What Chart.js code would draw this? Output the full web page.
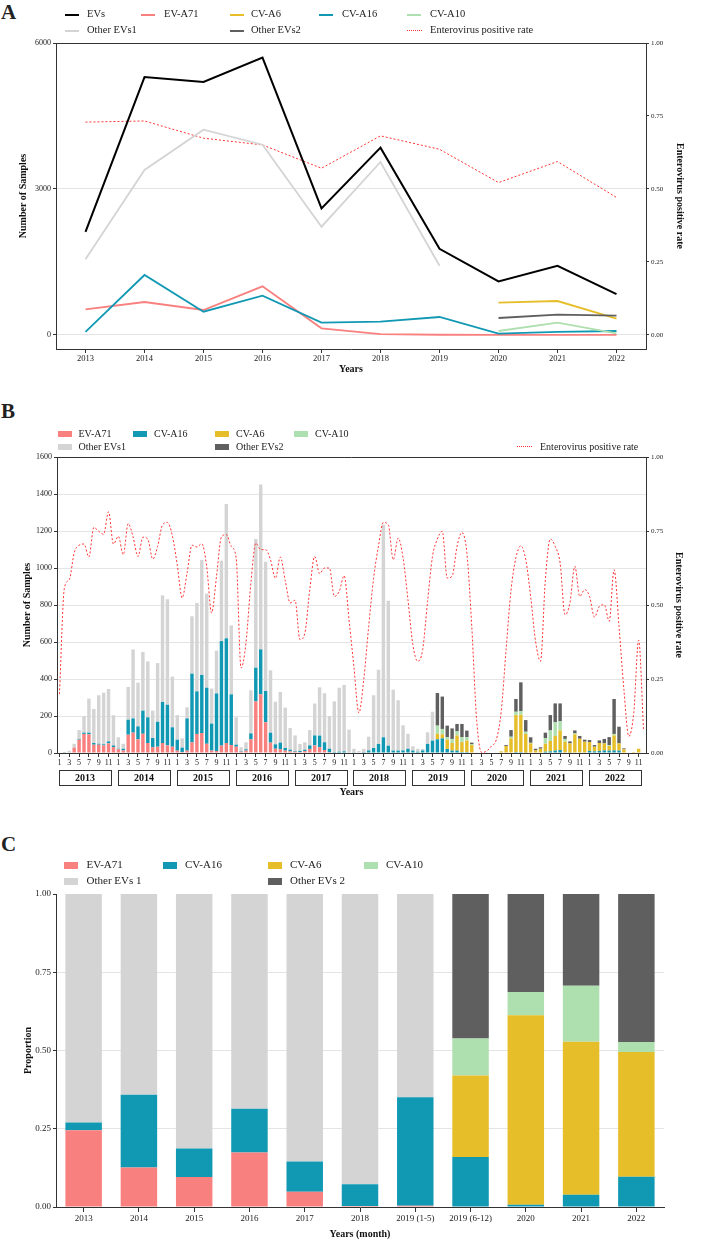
<!DOCTYPE html>
<html>
<head>
<meta charset="utf-8">
<script src="https://cdn.jsdelivr.net/npm/chart.js@4.4.0/dist/chart.umd.min.js"></script>
<style>
  body { margin: 0; background: #fff; font-family: "Liberation Serif", "Times New Roman", serif; color: #222; }
  #page { position: relative; width: 719px; height: 1240px; overflow: hidden; }
  .tag { position: absolute; left: 1px; font-weight: bold; font-size: 21px; line-height: 1; }
  .box { position: absolute; left: 0; width: 719px; }
  .lg-text { position: absolute; white-space: nowrap; line-height: 1.2; }
  .lg-sw { position: absolute; }
</style>
</head>
<body>
<div id="page">
  <div class="tag" style="top:2px">A</div>
  <div class="tag" style="top:401px">B</div>
  <div class="tag" style="top:834px">C</div>
  <div class="box" style="top:35px;height:345px"><canvas id="chartA"></canvas></div>
  <div class="box" style="top:449px;height:353px"><canvas id="chartB"></canvas></div>
  <div class="box" style="top:886px;height:354px"><canvas id="chartC"></canvas></div>
</div>
<script>
// ---- Panel A: yearly totals ----
const yearsA = ['2013', '2014', '2015', '2016', '2017', '2018', '2019', '2020', '2021', '2022'];
const evsA = [2120, 5300, 5200, 5700, 2600, 3850, 1770, 1100, 1420, 840];
const ev71A = [527, 678, 514, 1000, 137, 18, 5, 2, 3, 2];
const cva6A = [null, null, null, null, null, null, null, 664, 698, 335];
const cva16A = [62, 1233, 479, 808, 253, 274, 370, 27, 62, 82];
const cva10A = [null, null, null, null, null, null, null, 82, 253, 34];
const other1A = [1555, 3390, 4218, 3910, 2225, 3555, 1424, null, null, null];
const other2A = [null, null, null, null, null, null, null, 349, 418, 397];
const rateA = [0.729, 0.733, 0.674, 0.651, 0.571, 0.682, 0.636, 0.522, 0.594, 0.471];
const yTicksA = [0, 3000, 6000];
const rTicks = [0, 0.25, 0.5, 0.75, 1];

// ---- Panel B: monthly counts ----
const yearsB = [2013, 2014, 2015, 2016, 2017, 2018, 2019, 2020, 2021, 2022];
const monthsB = ['1', '2', '3', '4', '5', '6', '7', '8', '9', '10', '11', '12'];
const ev71B = [
  0, 0, 0, 29, 72, 103, 101, 45, 45, 41, 52, 32,
  20, 14, 99, 110, 74, 104, 54, 31, 34, 54, 41, 34,
  13, 5, 13, 58, 103, 108, 50, 13, 11, 40, 54, 43,
  34, 7, 13, 74, 279, 317, 166, 56, 23, 20, 13, 9,
  7, 5, 11, 22, 41, 31, 16, 4, 0, 0, 0, 0,
  0, 0, 0, 0, 0, 0, 0, 0, 0, 0, 0, 0,
  0, 0, 0, 0, 0, 0, 0, 0, 0, 0, 0, 0,
  0, 0, 0, 0, 0, 0, 0, 0, 0, 0, 0, 0,
  0, 0, 0, 0, 0, 0, 0, 0, 0, 0, 0, 0,
  0, 0, 0, 0, 0, 0, 0, 0, 0, 0, 0, 0
];
const cva16B = [
  0, 2, 0, 0, 4, 7, 9, 9, 5, 6, 11, 9,
  3, 9, 81, 77, 70, 125, 139, 50, 135, 222, 220, 105,
  59, 24, 174, 371, 230, 314, 303, 146, 311, 565, 566, 274,
  11, 3, 7, 32, 182, 243, 169, 54, 24, 36, 14, 9,
  4, 6, 7, 19, 54, 63, 42, 19, 5, 7, 9, 3,
  2, 0, 5, 14, 27, 49, 85, 40, 13, 13, 14, 23,
  13, 7, 14, 49, 67, 74, 79, 22, 13, 13, 5, 5,
  0, 0, 0, 0, 0, 0, 0, 0, 0, 5, 5, 2,
  0, 0, 0, 7, 9, 13, 16, 3, 2, 3, 3, 3,
  11, 9, 11, 14, 13, 14, 13, 0, 0, 0, 0, 0
];
const cva6B = [
  0, 0, 0, 0, 0, 0, 0, 0, 0, 0, 0, 0,
  0, 0, 0, 0, 0, 0, 0, 0, 0, 0, 0, 0,
  0, 0, 0, 0, 0, 0, 0, 0, 0, 0, 0, 0,
  0, 0, 0, 0, 0, 0, 0, 0, 0, 0, 0, 0,
  0, 0, 0, 0, 0, 0, 0, 0, 0, 0, 0, 0,
  0, 0, 0, 0, 0, 0, 0, 0, 0, 0, 0, 0,
  0, 0, 0, 0, 0, 30, 22, 50, 41, 82, 54, 62,
  43, 3, 0, 0, 0, 0, 9, 38, 79, 200, 202, 101,
  52, 14, 23, 43, 56, 79, 106, 58, 50, 98, 74, 58,
  48, 25, 43, 38, 25, 81, 39, 20, 0, 5, 23, 0
];
const cva10B = [
  0, 0, 0, 0, 0, 0, 0, 0, 0, 0, 0, 0,
  0, 0, 0, 0, 0, 0, 0, 0, 0, 0, 0, 0,
  0, 0, 0, 0, 0, 0, 0, 0, 0, 0, 0, 0,
  0, 0, 0, 0, 0, 0, 0, 0, 0, 0, 0, 0,
  0, 0, 0, 0, 0, 0, 0, 0, 0, 0, 0, 0,
  0, 0, 0, 0, 0, 0, 0, 0, 0, 0, 0, 0,
  0, 0, 0, 0, 0, 44, 29, 14, 22, 22, 27, 19,
  4, 0, 0, 0, 0, 0, 0, 0, 9, 18, 20, 12,
  3, 0, 0, 31, 57, 74, 49, 15, 0, 5, 0, 0,
  0, 0, 0, 0, 5, 8, 0, 0, 0, 0, 0, 0
];
const other1B = [
  2, 4, 12, 21, 48, 90, 184, 184, 262, 279, 283, 163,
  62, 27, 177, 373, 236, 317, 302, 148, 317, 576, 570, 274,
  133, 50, 60, 310, 478, 621, 508, 189, 231, 435, 726, 373,
  148, 21, 38, 233, 696, 892, 699, 337, 230, 274, 218, 117,
  84, 38, 40, 83, 172, 261, 265, 177, 274, 346, 359, 123,
  21, 11, 17, 74, 285, 401, 1149, 783, 329, 272, 136, 81,
  23, 16, 8, 63, 156, 0, 0, 0, 0, 0, 0, 0,
  0, 0, 0, 0, 0, 0, 0, 0, 0, 0, 0, 0,
  0, 0, 0, 0, 0, 0, 0, 0, 0, 0, 0, 0,
  0, 0, 0, 0, 0, 0, 0, 0, 0, 0, 0, 0
];
const other2B = [
  0, 0, 0, 0, 0, 0, 0, 0, 0, 0, 0, 0,
  0, 0, 0, 0, 0, 0, 0, 0, 0, 0, 0, 0,
  0, 0, 0, 0, 0, 0, 0, 0, 0, 0, 0, 0,
  0, 0, 0, 0, 0, 0, 0, 0, 0, 0, 0, 0,
  0, 0, 0, 0, 0, 0, 0, 0, 0, 0, 0, 0,
  0, 0, 0, 0, 0, 0, 0, 0, 0, 0, 0, 0,
  0, 0, 0, 0, 0, 176, 175, 62, 57, 40, 71, 35,
  9, 0, 0, 0, 0, 0, 0, 5, 36, 69, 155, 63,
  30, 9, 8, 29, 83, 102, 97, 16, 11, 16, 15, 11,
  11, 9, 14, 24, 43, 189, 90, 5, 0, 0, 0, 0
];
const rateB = [
  0.199, 0.557, 0.586, 0.676, 0.702, 0.706, 0.662, 0.762, 0.749, 0.739, 0.815, 0.706,
  0.732, 0.670, 0.775, 0.730, 0.664, 0.729, 0.723, 0.655, 0.698, 0.771, 0.779, 0.734,
  0.636, 0.524, 0.608, 0.702, 0.696, 0.707, 0.630, 0.473, 0.597, 0.730, 0.738, 0.698,
  0.659, 0.287, 0.372, 0.574, 0.709, 0.687, 0.687, 0.653, 0.590, 0.662, 0.582, 0.507,
  0.516, 0.383, 0.405, 0.552, 0.664, 0.606, 0.625, 0.625, 0.529, 0.546, 0.599, 0.450,
  0.290, 0.135, 0.248, 0.428, 0.590, 0.700, 0.779, 0.771, 0.653, 0.726, 0.660, 0.518,
  0.366, 0.310, 0.349, 0.512, 0.664, 0.723, 0.749, 0.591, 0.597, 0.698, 0.745, 0.676,
  0.428, 0.110, 0.002, 0.006, 0.023, 0.045, 0.140, 0.350, 0.550, 0.660, 0.700, 0.653,
  0.529, 0.377, 0.310, 0.586, 0.723, 0.698, 0.642, 0.467, 0.507, 0.631, 0.529, 0.552,
  0.529, 0.459, 0.495, 0.501, 0.445, 0.619, 0.428, 0.214, 0.056, 0.135, 0.381, 0.079
];

// ---- Panel C: yearly proportions ----
const periodsC = ['2013', '2014', '2015', '2016', '2017', '2018', '2019 (1-5)', '2019 (6-12)', '2020', '2021', '2022'];
const ev71C = [0.245, 0.126, 0.096, 0.174, 0.049, 0.003, 0.004, 0, 0, 0, 0];
const cva16C = [0.025, 0.233, 0.091, 0.140, 0.096, 0.070, 0.347, 0.160, 0.007, 0.039, 0.097];
const cva6C = [0, 0, 0, 0, 0, 0, 0, 0.260, 0.606, 0.489, 0.398];
const cva10C = [0, 0, 0, 0, 0, 0, 0, 0.118, 0.074, 0.179, 0.032];
const other1C = [0.730, 0.641, 0.813, 0.686, 0.855, 0.927, 0.649, 0, 0, 0, 0];
const other2C = [0, 0, 0, 0, 0, 0, 0, 0.462, 0.313, 0.293, 0.473];

const COL = {
  evs: '#000000', ev71: '#F8807F', cva6: '#E6BE2A', cva16: '#1199B4',
  cva10: '#AEDFAF', other1: '#D4D4D4', other2: '#5F5F5F', rate: '#FF3333'
};
const AXIS = '#333333';
const GRID = '#e4e4e4';
const SERIF = '"Liberation Serif", "Times New Roman", serif';

Chart.defaults.font.family = SERIF;
Chart.defaults.color = '#222';
Chart.defaults.animation = false;

// HTML legends, laid out in the reference's grid
function legend(items, fontSize) {
  const page = document.getElementById('page');
  items.forEach(([label, kind, color, sx, tx, y]) => {
    const sw = document.createElement('div');
    sw.className = 'lg-sw';
    if (kind === 'line') {
      Object.assign(sw.style, { left: sx + 'px', top: (y - 1) + 'px', width: '14px', height: '2px', background: color });
    } else if (kind === 'dots') {
      Object.assign(sw.style, { left: sx + 'px', top: (y - 1) + 'px', width: '15px', height: '0', borderTop: '1.5px dotted ' + color });
    } else {
      const h = fontSize > 10.5 ? 7 : 6;
      Object.assign(sw.style, { left: sx + 'px', top: (y - h / 2) + 'px', width: '14px', height: h + 'px', background: color });
    }
    page.appendChild(sw);
    const t = document.createElement('div');
    t.className = 'lg-text';
    t.textContent = label;
    Object.assign(t.style, { left: tx + 'px', top: (y - fontSize * 0.62) + 'px', fontSize: fontSize + 'px' });
    page.appendChild(t);
  });
}

legend([
  ['EVs', 'line', COL.evs, 65, 87, 15],
  ['EV-A71', 'line', COL.ev71, 141, 164, 15],
  ['CV-A6', 'line', COL.cva6, 230, 251, 15],
  ['CV-A16', 'line', COL.cva16, 319, 342, 15],
  ['CV-A10', 'line', COL.cva10, 407, 430, 15],
  ['Other EVs1', 'line', COL.other1, 65, 87, 31],
  ['Other EVs2', 'line', COL.other2, 230, 251, 31],
  ['Enterovirus positive rate', 'dots', COL.rate, 407, 430, 31]
], 10.5);

legend([
  ['EV-A71', 'box', COL.ev71, 58, 78.5, 434],
  ['CV-A16', 'box', COL.cva16, 133, 154, 434],
  ['CV-A6', 'box', COL.cva6, 215, 236, 434],
  ['CV-A10', 'box', COL.cva10, 294, 315, 434],
  ['Other EVs1', 'box', COL.other1, 58, 78.5, 447],
  ['Other EVs2', 'box', COL.other2, 215, 236, 447],
  ['Enterovirus positive rate', 'dots', COL.rate, 517, 540, 447]
], 10);

legend([
  ['EV-A71', 'box', COL.ev71, 64, 86.5, 865],
  ['CV-A16', 'box', COL.cva16, 163, 185, 865],
  ['CV-A6', 'box', COL.cva6, 268, 290, 865],
  ['CV-A10', 'box', COL.cva10, 364, 386, 865],
  ['Other EVs 1', 'box', COL.other1, 64, 86.5, 881],
  ['Other EVs 2', 'box', COL.other2, 268, 290, 881]
], 11);

// Top frame line for the boxed panels
const topFrame = {
  id: 'topFrame',
  afterDraw(chart) {
    const { ctx, chartArea: a } = chart;
    ctx.save();
    ctx.strokeStyle = AXIS;
    ctx.lineWidth = 1;
    ctx.beginPath();
    ctx.moveTo(a.left, Math.round(a.top) + 0.5);
    ctx.lineTo(a.right, Math.round(a.top) + 0.5);
    ctx.stroke();
    ctx.restore();
  }
};

// Year boxes under the month ticks of panel B
const yearBoxes = {
  id: 'yearBoxes',
  afterDraw(chart) {
    const { ctx, scales: { x }, chartArea: a } = chart;
    ctx.save();
    ctx.strokeStyle = AXIS;
    ctx.lineWidth = 1;
    ctx.fillStyle = '#111';
    ctx.font = 'bold 10px ' + SERIF;
    ctx.textAlign = 'center';
    ctx.textBaseline = 'middle';
    const top = Math.round(a.bottom) + 17;
    yearsB.forEach((yr, k) => {
      const x1 = Math.round(x.getPixelForValue(k * 12) - 0.5);
      const x2 = Math.round(x.getPixelForValue(k * 12 + 11) - 2.5);
      ctx.strokeRect(x1 + 0.5, top + 0.5, x2 - x1, 15);
      ctx.fillText(String(yr), (x1 + x2) / 2, top + 8.5);
    });
    ctx.restore();
  }
};

function title(text, pad) {
  return { display: true, text, color: '#111', font: { size: 10, weight: 'bold' }, padding: pad };
}

const plain = (v) => String(v);
const fixed2 = (v) => Number(v).toFixed(2);

// ---- Chart A ----
function lineSet(label, data, color, width) {
  return { label, data, borderColor: color, backgroundColor: color, borderWidth: width,
    pointRadius: 0, spanGaps: false, tension: 0, yAxisID: 'y' };
}

new Chart(document.getElementById('chartA'), {
  type: 'line',
  data: {
    labels: yearsA,
    datasets: [
      lineSet('Other EVs1', other1A, COL.other1, 1.8),
      lineSet('Other EVs2', other2A, COL.other2, 1.8),
      lineSet('CV-A10', cva10A, COL.cva10, 1.8),
      lineSet('CV-A6', cva6A, COL.cva6, 1.8),
      lineSet('CV-A16', cva16A, COL.cva16, 1.8),
      lineSet('EV-A71', ev71A, COL.ev71, 1.8),
      lineSet('EVs', evsA, COL.evs, 2),
      { label: 'Enterovirus positive rate', data: rateA, borderColor: COL.rate, borderWidth: 1,
        borderDash: [2, 2], pointRadius: 0, tension: 0, yAxisID: 'y1' }
    ]
  },
  options: {
    responsive: true,
    maintainAspectRatio: false,
    layout: { padding: { top: 8 } },
    plugins: { legend: { display: false }, tooltip: { enabled: false } },
    scales: {
      x: {
        offset: true,
        grid: { drawOnChartArea: false, tickLength: 4, tickColor: AXIS },
        border: { color: AXIS },
        ticks: { font: { size: 8.5 }, padding: 1, maxRotation: 0 },
        title: title('Years', { top: 0, bottom: 5 }),
        afterFit: (s) => { s.height = 31; }
      },
      y: {
        position: 'left', min: -288, max: 6000,
        afterBuildTicks: (s) => { s.ticks = yTicksA.map((v) => ({ value: v })); },
        grid: { color: GRID, tickLength: 3, tickColor: AXIS },
        border: { color: AXIS },
        ticks: { font: { size: 8 }, padding: 2, callback: plain },
        title: title('Number of Samples', { top: 17, bottom: 0 }),
        afterFit: (s) => { s.width = 56; }
      },
      y1: {
        position: 'right', min: -0.048, max: 1,
        afterBuildTicks: (s) => { s.ticks = rTicks.map((v) => ({ value: v })); },
        grid: { drawOnChartArea: false, tickLength: 3, tickColor: AXIS },
        border: { color: AXIS },
        ticks: { font: { size: 7 }, padding: 2, callback: fixed2 },
        title: title('Enterovirus positive rate', { top: 33, bottom: 0 }),
        afterFit: (s) => { s.width = 73; }
      }
    }
  },
  plugins: [topFrame]
});

// ---- Chart B ----
const monthLabelsB = yearsB.flatMap(() => monthsB);

function barSet(label, data, color) {
  return { type: 'bar', label, data, backgroundColor: color, borderWidth: 0,
    stack: 'ev', yAxisID: 'y', order: 1, barPercentage: 0.7, categoryPercentage: 1 };
}

new Chart(document.getElementById('chartB'), {
  data: {
    labels: monthLabelsB,
    datasets: [
      barSet('EV-A71', ev71B, COL.ev71),
      barSet('CV-A16', cva16B, COL.cva16),
      barSet('CV-A6', cva6B, COL.cva6),
      barSet('CV-A10', cva10B, COL.cva10),
      barSet('Other EVs1', other1B, COL.other1),
      barSet('Other EVs2', other2B, COL.other2),
      { type: 'line', label: 'Enterovirus positive rate', data: rateB, borderColor: COL.rate,
        borderWidth: 1, borderDash: [2, 2], pointRadius: 0, cubicInterpolationMode: 'monotone',
        yAxisID: 'y1', order: 0 }
    ]
  },
  options: {
    responsive: true,
    maintainAspectRatio: false,
    layout: { padding: { top: 8 } },
    plugins: { legend: { display: false }, tooltip: { enabled: false } },
    scales: {
      x: {
        offset: true,
        grid: { offset: false, drawOnChartArea: false, tickLength: 4,
          tickColor: (c) => (c.index % 2 === 0 ? AXIS : 'rgba(0,0,0,0)') },
        border: { color: AXIS },
        ticks: { font: { size: 8 }, padding: 1, autoSkip: false, maxRotation: 0, minRotation: 0,
          callback: (v, i) => (i % 2 === 0 ? monthLabelsB[i] : '') },
        title: title('Years', { top: 0, bottom: 4 }),
        afterFit: (s) => { s.height = 49; }
      },
      y: {
        position: 'left', min: 0, max: 1600,
        ticks: { stepSize: 200, font: { size: 8 }, padding: 2, callback: plain },
        grid: { color: GRID, tickLength: 3, tickColor: AXIS },
        border: { color: AXIS },
        title: title('Number of Samples', { top: 21, bottom: 0 }),
        afterFit: (s) => { s.width = 57; }
      },
      y1: {
        position: 'right', min: 0, max: 1,
        afterBuildTicks: (s) => { s.ticks = rTicks.map((v) => ({ value: v })); },
        grid: { drawOnChartArea: false, tickLength: 3, tickColor: AXIS },
        border: { color: AXIS },
        ticks: { font: { size: 7 }, padding: 2, callback: fixed2 },
        title: title('Enterovirus positive rate', { top: 34, bottom: 0 }),
        afterFit: (s) => { s.width = 73; }
      }
    }
  },
  plugins: [topFrame, yearBoxes]
});

// ---- Chart C ----
function propSet(label, data, color) {
  return { label, data, backgroundColor: color, borderWidth: 0, stack: 'p',
    barPercentage: 0.66, categoryPercentage: 1 };
}

new Chart(document.getElementById('chartC'), {
  type: 'bar',
  data: {
    labels: periodsC,
    datasets: [
      propSet('EV-A71', ev71C, COL.ev71),
      propSet('CV-A16', cva16C, COL.cva16),
      propSet('CV-A6', cva6C, COL.cva6),
      propSet('CV-A10', cva10C, COL.cva10),
      propSet('Other EVs 1', other1C, COL.other1),
      propSet('Other EVs 2', other2C, COL.other2)
    ]
  },
  options: {
    responsive: true,
    maintainAspectRatio: false,
    layout: { padding: { top: 8, right: 55 } },
    plugins: { legend: { display: false }, tooltip: { enabled: false } },
    scales: {
      x: {
        stacked: true,
        grid: { offset: false, drawOnChartArea: false, tickLength: 5, tickColor: AXIS },
        border: { color: AXIS },
        ticks: { font: { size: 9 }, padding: 1, maxRotation: 0, autoSkip: false },
        title: title('Years (month)', { top: 0, bottom: 0 }),
        afterFit: (s) => { s.height = 33; }
      },
      y: {
        stacked: true, min: 0, max: 1,
        afterBuildTicks: (s) => { s.ticks = rTicks.map((v) => ({ value: v })); },
        grid: { color: (c) => (c.tick && c.tick.value > 0 && c.tick.value < 1 ? GRID : 'rgba(0,0,0,0)'),
          tickLength: 3, tickColor: AXIS },
        border: { color: AXIS },
        ticks: { font: { size: 9 }, padding: 2, callback: fixed2 },
        title: title('Proportion', { top: 22, bottom: 0 }),
        afterFit: (s) => { s.width = 56; }
      }
    }
  }
});
</script>
</body>
</html>
